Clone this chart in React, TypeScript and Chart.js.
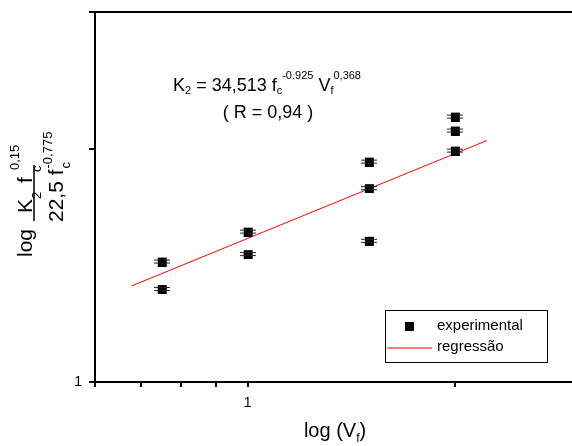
import React, { useEffect, useRef } from 'react';
import { Chart, registerables } from 'chart.js';

Chart.register(...registerables);

// ---- data ----
const expX = [0.75, 0.75, 1, 1, 1.5, 1.5, 1.5, 2, 2, 2];
const expY = [1.43, 1.318, 1.563, 1.462, 1.924, 1.778, 1.521, 2.199, 2.11, 1.988];
const regX = [0.678, 2.226];
const regY = [1.33, 2.048];
const xTickValues = [0.6, 0.7, 0.8, 0.9, 1, 2];
const yTickValues = [1, 2, 3];
const xTickLabels: Record<number, string> = { 1: '1' };
const yTickLabels: Record<number, string> = { 1: '1' };
const seriesLabels = ['experimental', 'regressão'];

const FONT = '"Liberation Sans", Arial, Helvetica, sans-serif';

function makeMarker(): HTMLCanvasElement {
  const c = document.createElement('canvas');
  c.width = 16;
  c.height = 10;
  const g = c.getContext('2d')!;
  g.fillStyle = '#000';
  g.fillRect(4, 1, 9, 9);
  g.fillStyle = '#222';
  g.fillRect(0, 3, 17, 1);
  g.fillRect(0, 6, 17, 1);
  return c;
}

function run(ctx: CanvasRenderingContext2D, x: number, y: number, text: string, size: number) {
  ctx.font = `${size}px ${FONT}`;
  ctx.fillText(text, x, y);
  return ctx.measureText(text).width;
}

function rot(ctx: CanvasRenderingContext2D, bx: number, sy: number, text: string, size: number) {
  ctx.save();
  ctx.translate(bx, sy);
  ctx.rotate(-Math.PI / 2);
  ctx.font = `${size}px ${FONT}`;
  ctx.textBaseline = 'alphabetic';
  ctx.textAlign = 'left';
  ctx.fillText(text, 0, 0);
  const w = ctx.measureText(text).width;
  ctx.restore();
  return w;
}

const deco = {
  id: 'deco',
  afterDraw(chart: any) {
    const ctx: CanvasRenderingContext2D = chart.ctx;
    const a = chart.chartArea;
    ctx.save();
    // top frame line
    ctx.strokeStyle = '#000';
    ctx.lineWidth = 2;
    ctx.beginPath();
    ctx.moveTo(a.left - 1, a.top);
    ctx.lineTo(a.right, a.top);
    ctx.stroke();

    ctx.fillStyle = '#000';
    ctx.textBaseline = 'alphabetic';
    ctx.textAlign = 'left';

    // equation
    const big = 18, small = 11;
    const parts: [string, number, number][] = [
      ['K', big, 0],
      ['2', small, 3],
      [' = 34,513 f', big, 0],
      ['c', small, 3],
      ['-0.925', small, -12],
      [' V', big, 0],
      ['f', small, 3],
      ['0,368', small, -12],
    ];
    let total = 0;
    for (const [t, s] of parts) {
      ctx.font = `${s}px ${FONT}`;
      total += ctx.measureText(t).width;
    }
    let x = 267 - total / 2;
    const by = 91;
    for (const [t, s, dy] of parts) {
      x += run(ctx, x, by + dy, t, s);
    }
    ctx.font = `${big}px ${FONT}`;
    const t2 = '( R = 0,94 )';
    const w2 = ctx.measureText(t2).width;
    ctx.fillText(t2, 268 - w2 / 2, 118);

    // x-axis title: log (V_f)
    {
      const s = 20;
      ctx.font = `${s}px ${FONT}`;
      const w1 = ctx.measureText('log (V').width;
      ctx.font = `12px ${FONT}`;
      const wf = ctx.measureText('f').width;
      ctx.font = `${s}px ${FONT}`;
      const w3 = ctx.measureText(')').width;
      let xx = 335 - (w1 + wf + w3) / 2;
      const yb = 437;
      xx += run(ctx, xx, yb, 'log (V', s);
      xx += run(ctx, xx, yb + 5, 'f', 12);
      run(ctx, xx, yb, ')', s);
    }

    // y-axis title (rotated)
    {
      const s = 21, ss = 13;
      rot(ctx, 32, 257, 'log', s);
      const wk = rot(ctx, 32, 213, 'K', s);
      rot(ctx, 41, 213 - wk, '2', ss);
      rot(ctx, 32, 183, 'f', s);
      rot(ctx, 41, 172, 'c', ss);
      rot(ctx, 19, 170, '0,15', ss);
      ctx.strokeStyle = '#000';
      ctx.lineWidth = 1.5;
      ctx.beginPath();
      ctx.moveTo(34, 221);
      ctx.lineTo(34, 165);
      ctx.stroke();
      const wd = rot(ctx, 63, 222, '22,5 f', s);
      rot(ctx, 70, 222 - wd - 1, 'c', ss);
      rot(ctx, 52, 222 - wd - 1, '-0,775', ss);
    }

    // legend
    {
      ctx.strokeStyle = '#000';
      ctx.lineWidth = 1;
      ctx.strokeRect(385.5, 310.5, 162, 52);
      ctx.fillStyle = '#000';
      ctx.fillRect(405, 322, 9, 9);
      ctx.strokeStyle = '#ff7f7f';
      ctx.lineWidth = 2;
      ctx.beginPath();
      ctx.moveTo(387, 348);
      ctx.lineTo(432, 348);
      ctx.stroke();
      ctx.fillStyle = '#000';
      ctx.font = `15px ${FONT}`;
      ctx.textBaseline = 'middle';
      ctx.fillText(seriesLabels[0], 437, 326);
      ctx.fillText(seriesLabels[1], 437, 347);
    }
    ctx.restore();
  },
};

export default function App() {
  const ref = useRef<HTMLCanvasElement | null>(null);
  useEffect(() => {
    if (!ref.current) return;
    const marker = makeMarker();
    const chart = new Chart(ref.current, {
      type: 'scatter',
      data: {
        datasets: [
          {
            label: seriesLabels[0],
            data: expX.map((x, i) => ({ x, y: expY[i] })),
            pointStyle: marker as any,
            pointRadius: 5,
            backgroundColor: '#000',
            borderColor: '#000',
            showLine: false,
          },
          {
            label: seriesLabels[1],
            data: regX.map((x, i) => ({ x, y: regY[i] })),
            showLine: true,
            borderColor: '#ff0000',
            borderWidth: 1,
            pointRadius: 0,
            fill: false,
          },
        ],
      },
      options: {
        responsive: false,
        animation: false,
        devicePixelRatio: 1,
        layout: { autoPadding: false, padding: { top: 12, right: 0, left: 0, bottom: 0 } },
        plugins: { legend: { display: false }, tooltip: { enabled: false } },
        scales: {
          x: {
            type: 'logarithmic',
            min: 0.6,
            max: 2.96,
            afterBuildTicks: (s: any) => {
              s.ticks = xTickValues.map((v) => ({ value: v }));
            },
            afterFit: (s: any) => {
              s.height = 64;
              s.paddingLeft = 0;
              s.paddingRight = 0;
            },
            ticks: {
              autoSkip: false,
              maxRotation: 0,
              padding: 8,
              color: '#000',
              font: { family: FONT, size: 14 },
              callback: (v: any) => xTickLabels[v] ?? '',
            },
            grid: { drawOnChartArea: false, drawTicks: true, tickLength: 5, color: '#000', lineWidth: 2 },
            border: { display: true, color: '#000', width: 2 },
          },
          y: {
            type: 'logarithmic',
            min: 1,
            max: 3,
            afterBuildTicks: (s: any) => {
              s.ticks = yTickValues.map((v) => ({ value: v }));
            },
            afterFit: (s: any) => {
              s.width = 95;
              s.paddingTop = 0;
              s.paddingBottom = 0;
            },
            ticks: {
              autoSkip: false,
              padding: 7,
              color: '#000',
              font: { family: FONT, size: 14 },
              callback: (v: any) => yTickLabels[v] ?? '',
            },
            grid: { drawOnChartArea: false, drawTicks: true, tickLength: 6, color: '#000', lineWidth: 2 },
            border: { display: true, color: '#000', width: 2 },
          },
        },
      },
      plugins: [deco],
    } as any);
    return () => chart.destroy();
  }, []);
  return (
    <div style={{ position: 'fixed', left: 0, top: 0, width: 572, height: 446, background: '#fff' }}>
      <canvas ref={ref} width={572} height={446} style={{ width: 572, height: 446, display: 'block' }} />
    </div>
  );
}
